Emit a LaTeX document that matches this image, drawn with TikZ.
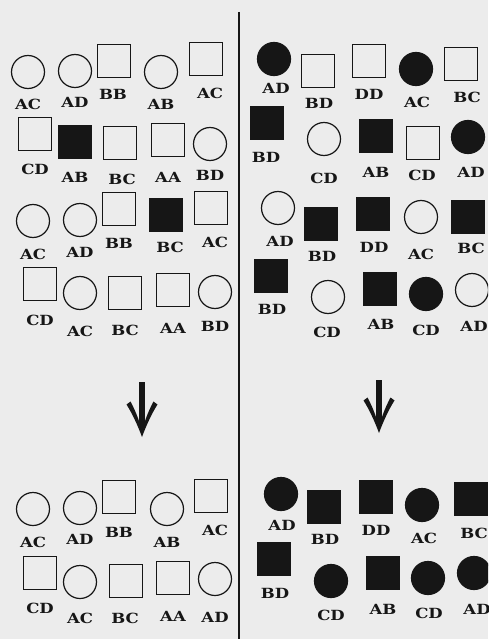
\documentclass[tikz,border=0pt]{standalone}
\usepackage{fontspec}
\newfontfamily\labfont{DejaVu Serif}[FakeStretch=1.18]
\definecolor{bg}{RGB}{236,236,236}
\definecolor{ink}{RGB}{22,22,22}
\tikzset{
  shp/.style={draw=ink, line width=1.2pt, inner sep=0pt, outer sep=0pt},
  circ/.style={shp, circle, minimum size=33pt},
  fcirc/.style={circ, fill=ink},
  sq/.style={shp, rectangle, minimum size=32.5pt},
  fsq/.style={sq, fill=ink},
  lab/.style={inner sep=0pt, text=ink, font=\labfont\bfseries\fontsize{14}{14}\selectfont},
  divider/.style={draw=ink, line width=1.5pt},
}
\begin{document}
\begin{tikzpicture}[x={(1pt,0)}, y={(0,-1pt)}]
\fill[bg] (0,0) rectangle (488,639);
\useasboundingbox (0,0) rectangle (488,639);
\clip (0,0) rectangle (488,639);

% divider
\coordinate (divtop) at (239,12);
\coordinate (divbot) at (239,639);
\draw[divider] (divtop) -- (divbot);

% ---------- left panel ----------
% row 1
\node[circ] (l11) at (28,72) {};  \node[lab] (l11t) at (28,104) {AC};
\node[circ] (l12) at (75,71) {};  \node[lab] (l12t) at (75,102) {AD};
\node[sq]   (l13) at (114,61) {}; \node[lab] (l13t) at (113,94) {BB};
\node[circ] (l14) at (161,72) {}; \node[lab] (l14t) at (161,104) {AB};
\node[sq]   (l15) at (206,59) {}; \node[lab] (l15t) at (210,93) {AC};
% row 2
\node[sq]   (l21) at (35,134) {}; \node[lab] (l21t) at (35,169) {CD};
\node[fsq]  (l22) at (75,142) {}; \node[lab] (l22t) at (75,177) {AB};
\node[sq]   (l23) at (120,143) {};\node[lab] (l23t) at (122,179) {BC};
\node[sq]   (l24) at (168,140) {};\node[lab] (l24t) at (168,177) {AA};
\node[circ] (l25) at (210,144) {};\node[lab] (l25t) at (210,175) {BD};
% row 3
\node[circ] (l31) at (33,221) {}; \node[lab] (l31t) at (33,254) {AC};
\node[circ] (l32) at (80,220) {}; \node[lab] (l32t) at (80,252) {AD};
\node[sq]   (l33) at (119,209) {};\node[lab] (l33t) at (119,243) {BB};
\node[fsq]  (l34) at (166,215) {};\node[lab] (l34t) at (170,247) {BC};
\node[sq]   (l35) at (211,208) {};\node[lab] (l35t) at (215,242) {AC};
% row 4
\node[sq]   (l41) at (40,284) {}; \node[lab] (l41t) at (40,320) {CD};
\node[circ] (l42) at (80,293) {}; \node[lab] (l42t) at (80,331) {AC};
\node[sq]   (l43) at (125,293) {};\node[lab] (l43t) at (125,330) {BC};
\node[sq]   (l44) at (173,290) {};\node[lab] (l44t) at (173,328) {AA};
\node[circ] (l45) at (215,292) {};\node[lab] (l45t) at (215,326) {BD};
% row 5
\node[circ] (l51) at (33,509) {}; \node[lab] (l51t) at (33,542) {AC};
\node[circ] (l52) at (80,508) {}; \node[lab] (l52t) at (80,539) {AD};
\node[sq]   (l53) at (119,497) {};\node[lab] (l53t) at (119,532) {BB};
\node[circ] (l54) at (167,509) {};\node[lab] (l54t) at (167,542) {AB};
\node[sq]   (l55) at (211,496) {};\node[lab] (l55t) at (215,530) {AC};
% row 6
\node[sq]   (l61) at (40,573) {}; \node[lab] (l61t) at (40,608) {CD};
\node[circ] (l62) at (80,582) {}; \node[lab] (l62t) at (80,618) {AC};
\node[sq]   (l63) at (126,581) {};\node[lab] (l63t) at (125,618) {BC};
\node[sq]   (l64) at (173,578) {};\node[lab] (l64t) at (173,616) {AA};
\node[circ] (l65) at (215,579) {};\node[lab] (l65t) at (215,617) {AD};

% ---------- right panel ----------
% row 1
\node[fcirc] (r11) at (274,59) {}; \node[lab] (r11t) at (276,88) {AD};
\node[sq]    (r12) at (318,71) {}; \node[lab] (r12t) at (319,103) {BD};
\node[sq]    (r13) at (369,61) {}; \node[lab] (r13t) at (369,94) {DD};
\node[fcirc] (r14) at (416,69) {}; \node[lab] (r14t) at (417,102) {AC};
\node[sq]    (r15) at (461,64) {}; \node[lab] (r15t) at (467,97) {BC};
% row 2
\node[fsq]   (r21) at (267,123) {};\node[lab] (r21t) at (266,157) {BD};
\node[circ]  (r22) at (324,139) {};\node[lab] (r22t) at (324,178) {CD};
\node[fsq]   (r23) at (376,136) {};\node[lab] (r23t) at (376,172) {AB};
\node[sq]    (r24) at (423,143) {};\node[lab] (r24t) at (422,175) {CD};
\node[fcirc] (r25) at (468,137) {};\node[lab] (r25t) at (471,172) {AD};
% row 3
\node[circ]  (r31) at (278,208) {};\node[lab] (r31t) at (280,241) {AD};
\node[fsq]   (r32) at (321,224) {};\node[lab] (r32t) at (322,256) {BD};
\node[fsq]   (r33) at (373,214) {};\node[lab] (r33t) at (374,247) {DD};
\node[circ]  (r34) at (421,217) {};\node[lab] (r34t) at (421,254) {AC};
\node[fsq]   (r35) at (468,217) {};\node[lab] (r35t) at (471,248) {BC};
% row 4
\node[fsq]   (r41) at (271,276) {};\node[lab] (r41t) at (272,309) {BD};
\node[circ]  (r42) at (328,297) {};\node[lab] (r42t) at (327,332) {CD};
\node[fsq]   (r43) at (380,289) {};\node[lab] (r43t) at (381,324) {AB};
\node[fcirc] (r44) at (426,294) {};\node[lab] (r44t) at (426,330) {CD};
\node[circ]  (r45) at (472,290) {};\node[lab] (r45t) at (474,326) {AD};
% row 5
\node[fcirc] (r51) at (281,494) {};\node[lab] (r51t) at (282,525) {AD};
\node[fsq]   (r52) at (324,507) {};\node[lab] (r52t) at (325,539) {BD};
\node[fsq]   (r53) at (376,497) {};\node[lab] (r53t) at (376,530) {DD};
\node[fcirc] (r54) at (422,505) {};\node[lab] (r54t) at (424,538) {AC};
\node[fsq]   (r55) at (471,499) {};\node[lab] (r55t) at (474,533) {BC};
% row 6
\node[fsq]   (r61) at (274,559) {};\node[lab] (r61t) at (275,593) {BD};
\node[fcirc] (r62) at (331,581) {};\node[lab] (r62t) at (331,615) {CD};
\node[fsq]   (r63) at (383,573) {};\node[lab] (r63t) at (383,609) {AB};
\node[fcirc] (r64) at (428,578) {};\node[lab] (r64t) at (429,613) {CD};
\node[fcirc] (r65) at (474,573) {};\node[lab] (r65t) at (477,609) {AD};

% ---------- arrows ----------
\coordinate (la-top) at (142,382);
\coordinate (la-tip) at (142,437);
\coordinate (ra-top) at (379,380);
\coordinate (ra-tip) at (379,433);
\foreach \t/\p in {la-top/la-tip, ra-top/ra-tip}{
  \draw[ink, line width=6pt] (\t) -- ([yshift=14pt]\p);
  \begin{scope}[shift={(\p)}]
  \fill[ink] (0,0) .. controls (-4,-11) and (-10,-24) .. (-15.5,-32.5)
     -- (-11.5,-35.5) .. controls (-8,-29) and (-5,-22) .. (-3,-16)
     -- (3,-16) .. controls (5,-22) and (8,-29) .. (11.5,-35.5)
     -- (15.5,-32.5) .. controls (10,-24) and (4,-11) .. (0,0) -- cycle;
  \end{scope}
}
\end{tikzpicture}
\end{document}
